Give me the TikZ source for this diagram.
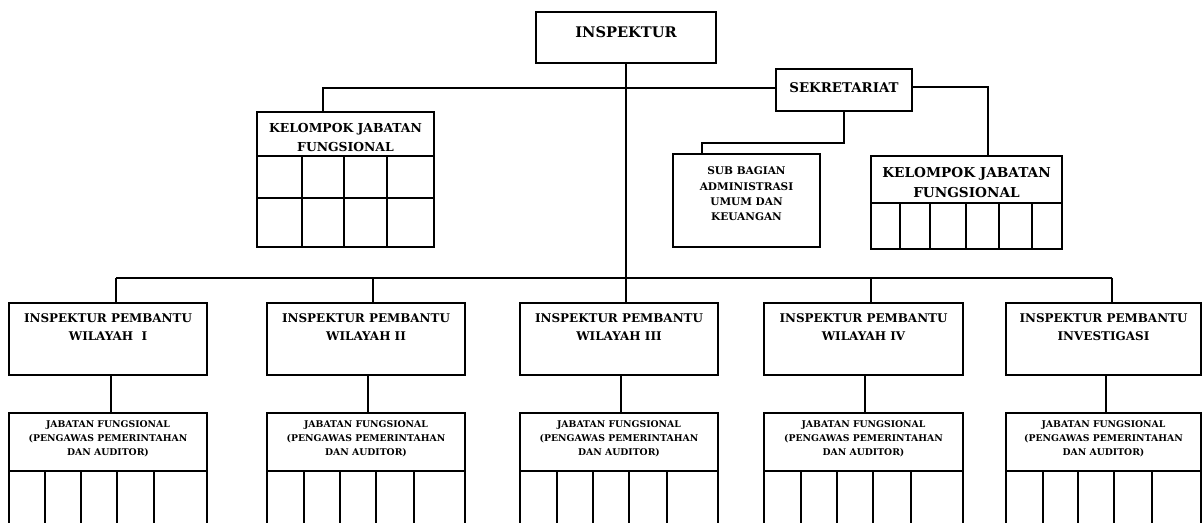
\documentclass[tikz,border=0pt]{standalone}
\usepackage{fontspec}
\setmainfont{DejaVu Serif}
\usetikzlibrary{fit,calc}
\begin{document}
\begin{tikzpicture}[x=0.025cm,y=-0.025cm,
  box/.style={draw, line width=1.5pt, inner sep=0pt},
  conn/.style={line width=1.3pt, line join=miter},
  div/.style={line width=1.2pt},
  lbl/.style={inner sep=0pt, align=center},
  tIns/.style={lbl, font=\bfseries\fontsize{10.4}{12}\selectfont},
  tSek/.style={lbl, font=\bfseries\fontsize{9.5}{12}\selectfont},
  tKL/.style={lbl, font=\bfseries\fontsize{8.8}{13.5}\selectfont},
  tKR/.style={lbl, font=\bfseries\fontsize{9.7}{14.2}\selectfont},
  tSub/.style={lbl, font=\bfseries\fontsize{7.5}{10.9}\selectfont},
  tIpw/.style={lbl, font=\bfseries\fontsize{8.5}{12.8}\selectfont},
  tJf/.style={lbl, font=\bfseries\fontsize{6.6}{10}\selectfont}]
\useasboundingbox (0,0) rectangle (1202,523);
\clip (0,0) rectangle (1202,523);

% top
\node[box, fit={(536,12) (716,63)}] (ins) {};
\node[tIns] (tins) at (626,32) {INSPEKTUR};
\node[box, fit={(776,69) (912,111)}] (sek) {};
\node[tSek] (tsek) at (844,88) {SEKRETARIAT};

% left kelompok
\node[box, fit={(257,112) (434,247)}] (lkjf) {};
\node[tKL] (tlkjf) at (345.5,137.5) {KELOMPOK JABATAN\\FUNGSIONAL};
\draw[div] (257,156) -- (434,156);
\draw[div] (257,198) -- (434,198);
\foreach \d in {302,344,387} \draw[div] (\d,156) -- (\d,247);

% sub bagian
\node[box, fit={(673,154) (820,247)}] (sub) {};
\node[tSub] (tsub) at (746.5,194) {SUB BAGIAN\\ADMINISTRASI\\UMUM DAN\\KEUANGAN};

% right kelompok
\node[box, fit={(871,156) (1062,249)}] (rkjf) {};
\node[tKR] (trkjf) at (966.5,183) {KELOMPOK JABATAN\\FUNGSIONAL};
\draw[div] (871,203) -- (1062,203);
\foreach \d in {900,930,966,999,1032} \draw[div] (\d,203) -- (\d,249);

% top connectors
\coordinate (kL) at (323,88);
\draw[conn] (sek.west |- kL) -- (kL) -- (kL |- lkjf.north);
\coordinate (kR) at (988,87);
\draw[conn] (sek.east |- kR) -- (kR) -- (kR |- rkjf.north);
\coordinate (sj) at (702,143);
\draw[conn] (sek.south) |- (sj) -- (sj |- sub.north);

% bottom row
\foreach \n/\xa/\xb/\da/\db/\dc/\dd/\cx/\ccx/\t in {
 1/9/207/45/81/117/154/116/111/{INSPEKTUR PEMBANTU\\WILAYAH\ \ I},
 2/267/465/304/340/376/414/373/368/{INSPEKTUR PEMBANTU\\WILAYAH II},
 3/520/718/557/593/629/667/626/621/{INSPEKTUR PEMBANTU\\WILAYAH III},
 4/764/963/801/837/873/911/871/865/{INSPEKTUR PEMBANTU\\WILAYAH IV},
 5/1006/1201/1043/1078/1114/1152/1112/1106/{INSPEKTUR PEMBANTU\\INVESTIGASI}}
{
 \node[box, fit={(\xa,303) (\xb,375)}] (ipw\n) {};
 \node[tIpw] (tipw\n) at ($(ipw\n.north)+(0,25)$) {\t};
 \node[box, fit={(\xa,413) (\xb,560)}] (jf\n) {};
 \node[tJf] (tjf\n) at ($(jf\n.north)+(0,27)$) {JABATAN FUNGSIONAL\\(PENGAWAS PEMERINTAHAN\\DAN AUDITOR)};
 \draw[div] (\xa,471) -- (\xb,471);
 \foreach \d in {\da,\db,\dc,\dd} \draw[div] (\d,471) -- (\d,560);
 \coordinate (b\n) at (\cx,278);
 \draw[conn] (b\n) -- (b\n |- ipw\n.north);
 \coordinate (c\n) at (\ccx,0);
 \draw[conn] (ipw\n.south -| c\n) -- (jf\n.north -| c\n);
}
\draw[conn] (b1) -- (b5);
\draw[conn] (ins.south) -- (ins.south |- b3);
\end{tikzpicture}
\end{document}
